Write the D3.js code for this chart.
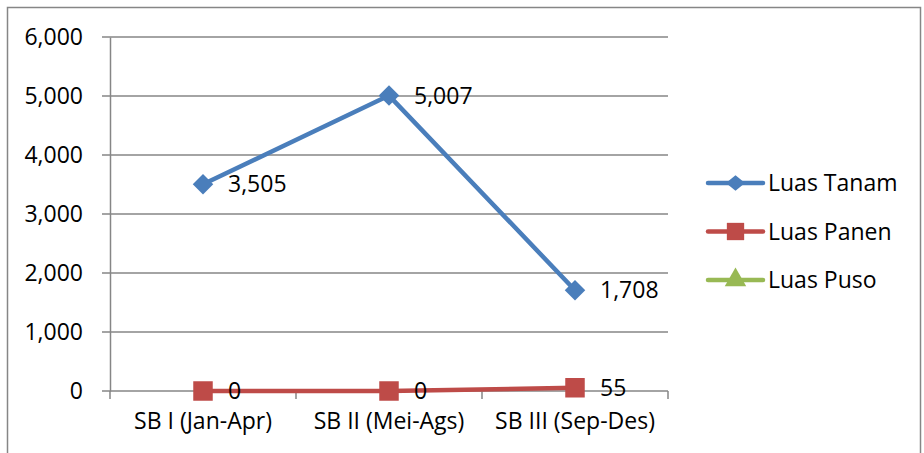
<!DOCTYPE html>
<html>
<head>
<meta charset="utf-8">
<script src="https://cdn.jsdelivr.net/npm/d3@7"></script>
<style>
  body { margin: 0; background: #fff; }
  svg text { font-family: "Open Sans", sans-serif; fill: #000; }
</style>
</head>
<body>
<svg id="chart" width="924" height="453"></svg>
<script>
// data
var categories = ["SB I (Jan-Apr)", "SB II (Mei-Ags)", "SB III (Sep-Des)"];
var luasTanam = [3505, 5007, 1708];
var luasPanen = [0, 0, 55];
var luasPuso = [null, null, null];
var yTicks = [0, 1000, 2000, 3000, 4000, 5000, 6000];

var series = [
  { name: "Luas Tanam", values: luasTanam, color: "#4A7EBB", marker: "diamond" },
  { name: "Luas Panen", values: luasPanen, color: "#BE4B48", marker: "square" },
  { name: "Luas Puso", values: luasPuso, color: "#98B954", marker: "triangle" }
];

var svg = d3.select("#chart");
var plotLeft = 110, plotRight = 668, plotTop = 37, plotBottom = 391;
var fs = "23px";

// chart border
svg.append("rect")
  .attr("x", 7.5).attr("y", 7.5)
  .attr("width", 913).attr("height", 460)
  .attr("fill", "none")
  .attr("stroke", "#868686")
  .attr("stroke-width", 1.5);

var x = d3.scaleBand().domain(categories).range([plotLeft, plotRight]);
var y = d3.scaleLinear().domain([0, 6000]).range([plotBottom, plotTop]);

// gridlines
svg.append("g")
  .selectAll("line")
  .data(yTicks)
  .enter().append("line")
  .attr("x1", plotLeft - 8).attr("x2", plotRight)
  .attr("y1", d => y(d)).attr("y2", d => y(d))
  .attr("stroke", "#868686")
  .attr("stroke-width", 1.5);

// y axis
var yAxis = svg.append("g")
  .attr("transform", "translate(" + plotLeft + ",0)")
  .call(d3.axisLeft(y).tickValues(yTicks).tickSize(0).tickPadding(27).tickFormat(d3.format(",")));
yAxis.select(".domain").attr("stroke", "#868686").attr("stroke-width", 1.5);
yAxis.selectAll("text").style("font-size", fs);

// x axis
var xAxis = svg.append("g")
  .attr("transform", "translate(0," + plotBottom + ")")
  .call(d3.axisBottom(x).tickSize(0).tickPadding(22));
xAxis.select(".domain").remove();
xAxis.selectAll("text").style("font-size", fs).attr("dy", "0.71em");

svg.append("g")
  .selectAll("line")
  .data(d3.range(categories.length + 1))
  .enter().append("line")
  .attr("x1", i => plotLeft + i * x.step()).attr("x2", i => plotLeft + i * x.step())
  .attr("y1", plotBottom).attr("y2", plotBottom + 8)
  .attr("stroke", "#868686")
  .attr("stroke-width", 1.5);

var cx = d => x(d) + x.bandwidth() / 2;

function markerPath(type, size) {
  if (type == "diamond") return d3.symbol().type(d3.symbolSquare).size(size)();
  if (type == "square") return d3.symbol().type(d3.symbolSquare).size(size)();
  return d3.symbol().type(d3.symbolTriangle).size(size)();
}
var markerSize = { diamond: 210, square: 380, triangle: 200 };

var line = d3.line()
  .defined(d => d.v != null)
  .x(d => cx(d.c))
  .y(d => y(d.v));

series.forEach(function(s) {
  var pts = categories.map((c, i) => ({ c: c, v: s.values[i] }));
  var g = svg.append("g");
  g.append("path")
    .datum(pts)
    .attr("d", line)
    .attr("fill", "none")
    .attr("stroke", s.color)
    .attr("stroke-width", 4.5)
    .attr("stroke-linejoin", "round");
  g.selectAll("path.mk")
    .data(pts.filter(d => d.v != null))
    .enter().append("path")
    .attr("class", "mk")
    .attr("transform", d => "translate(" + cx(d.c) + "," + y(d.v) + ")" + (s.marker == "diamond" ? " rotate(45)" : ""))
    .attr("d", markerPath(s.marker, markerSize[s.marker]))
    .attr("fill", s.color);
});

// data labels on top
series.forEach(function(s) {
  var pts = categories.map((c, i) => ({ c: c, v: s.values[i] })).filter(d => d.v != null);
  svg.append("g")
    .selectAll("text")
    .data(pts)
    .enter().append("text")
    .attr("x", d => cx(d.c) + 25)
    .attr("y", d => y(d.v))
    .attr("dy", "0.35em")
    .style("font-size", fs)
    .text(d => d3.format(",")(d.v));
});

// legend
var legend = svg.append("g")
  .selectAll("g")
  .data(series)
  .enter().append("g")
  .attr("transform", (d, i) => "translate(708," + (183 + i * 48.5) + ")");
legend.append("line")
  .attr("x1", 0).attr("x2", 55)
  .attr("stroke", d => d.color)
  .attr("stroke-width", 4.5)
  .attr("stroke-linecap", "round");
legend.append("path")
  .attr("transform", d => "translate(27.5,0)" + (d.marker == "diamond" ? " scale(1.1,0.9) rotate(45)" : ""))
  .attr("d", d => markerPath(d.marker, d.marker == "square" ? 300 : d.marker == "diamond" ? 150 : 200))
  .attr("fill", d => d.color);
legend.append("text")
  .attr("x", 60)
  .attr("dy", "0.35em")
  .style("font-size", fs)
  .text(d => d.name);
</script>
</body>
</html>
